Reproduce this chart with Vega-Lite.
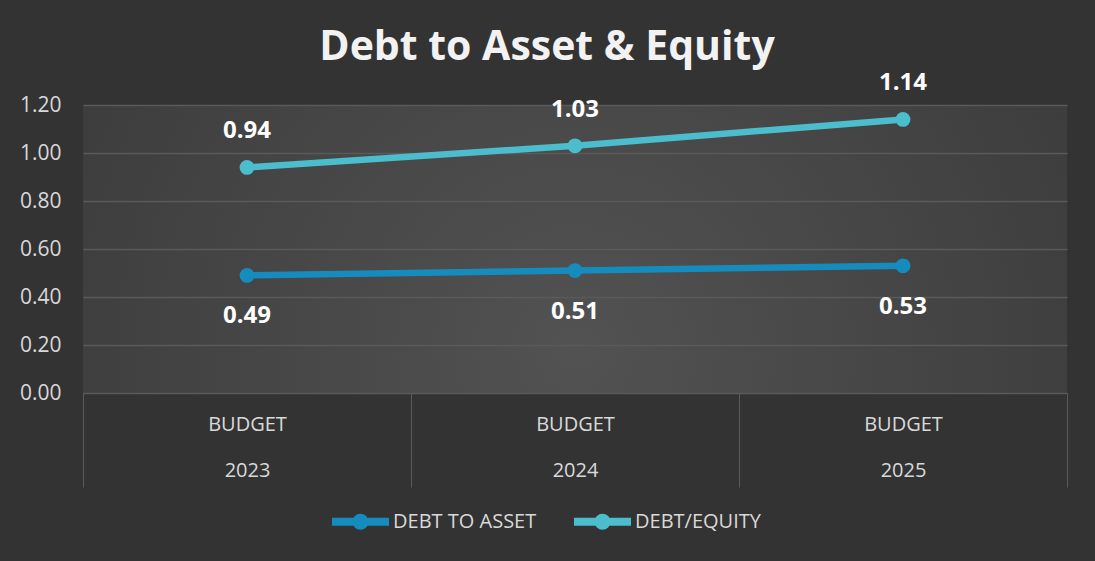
{
  "$schema": "https://vega.github.io/schema/vega-lite/v6.json",
  "width": 984,
  "height": 288,
  "autosize": {"type": "none"},
  "padding": {"left": 83, "top": 105, "right": 28, "bottom": 168},
  "background": "#333333",
  "title": {
    "text": "Debt to Asset & Equity",
    "font": "Open Sans",
    "fontSize": 41,
    "fontWeight": "bold",
    "color": "#f2f2f2",
    "anchor": "middle",
    "dx": -28,
    "offset": 2
  },
  "data": {
    "values": [
      {"year": "2023", "series": "DEBT TO ASSET", "value": 0.49},
      {"year": "2024", "series": "DEBT TO ASSET", "value": 0.51},
      {"year": "2025", "series": "DEBT TO ASSET", "value": 0.53},
      {"year": "2023", "series": "DEBT/EQUITY", "value": 0.94},
      {"year": "2024", "series": "DEBT/EQUITY", "value": 1.03},
      {"year": "2025", "series": "DEBT/EQUITY", "value": 1.14}
    ]
  },
  "encoding": {
    "x": {
      "field": "year",
      "type": "nominal",
      "sort": ["2023", "2024", "2025"],
      "scale": {"paddingInner": 0, "paddingOuter": 0},
      "axis": {
        "title": null,
        "labelAngle": 0,
        "labelExpr": "datum.label ? ['BUDGET', datum.label] : ''",
        "labelLineHeight": 46,
        "labelBaseline": "top",
        "labelPadding": -73,
        "labelFont": "Open Sans",
        "labelFontSize": 20,
        "labelColor": "#d9d9d9",
        "ticks": true,
        "tickBand": "extent",
        "tickSize": 94,
        "tickColor": "#5a5a5a",
        "tickWidth": 1,
        "domain": true,
        "domainColor": "#5a5a5a",
        "grid": false
      }
    },
    "y": {
      "field": "value",
      "type": "quantitative",
      "scale": {"domain": [0, 1.2], "nice": false},
      "axis": {
        "title": null,
        "values": [0, 0.2, 0.4, 0.6, 0.8, 1.0, 1.2],
        "format": ".2f",
        "labelFont": "Open Sans",
        "labelFontSize": 21,
        "labelColor": "#d9d9d9",
        "labelPadding": 22,
        "ticks": false,
        "domain": false,
        "grid": true,
        "gridColor": "#5a5a5a",
        "gridWidth": 1.3
      }
    },
    "color": {
      "field": "series",
      "type": "nominal",
      "scale": {"domain": ["DEBT TO ASSET", "DEBT/EQUITY"], "range": ["#168CBE", "#4BBDCC"]},
      "legend": {
        "title": null,
        "orient": "none",
        "legendX": 245,
        "legendY": 384,
        "direction": "horizontal",
        "symbolType": "M-1,0H1M0.14,0A0.14,0.14 0 1,1 -0.14,0A0.14,0.14 0 1,1 0.14,0",
        "symbolSize": 3249,
        "symbolStrokeWidth": 8,
        "labelFont": "Open Sans",
        "labelFontSize": 20,
        "labelColor": "#d9d9d9",
        "labelOffset": 0,
        "columnPadding": 21
      }
    }
  },
  "layer": [
    {"mark": {"type": "line", "strokeWidth": 6.5}},
    {"mark": {"type": "point", "filled": true, "size": 220, "opacity": 1}},
    {
      "transform": [{"filter": "datum.series == 'DEBT/EQUITY'"}],
      "mark": {"type": "text", "font": "Open Sans", "fontSize": 24, "fontWeight": "bold", "dy": -36, "baseline": "middle"},
      "encoding": {"text": {"field": "value", "type": "quantitative", "format": ".2f"}, "color": {"value": "#ffffff"}}
    },
    {
      "transform": [{"filter": "datum.series == 'DEBT TO ASSET'"}],
      "mark": {"type": "text", "font": "Open Sans", "fontSize": 24, "fontWeight": "bold", "dy": 41, "baseline": "middle"},
      "encoding": {"text": {"field": "value", "type": "quantitative", "format": ".2f"}, "color": {"value": "#ffffff"}}
    }
  ],
  "config": {
    "view": {
      "stroke": null,
      "fill": {
        "gradient": "radial",
        "x1": 0.5, "y1": 0.6, "x2": 0.5, "y2": 0.6, "r1": 0, "r2": 0.75,
        "stops": [{"offset": 0, "color": "#525252"}, {"offset": 1, "color": "#363636"}]
      }
    }
  }
}
